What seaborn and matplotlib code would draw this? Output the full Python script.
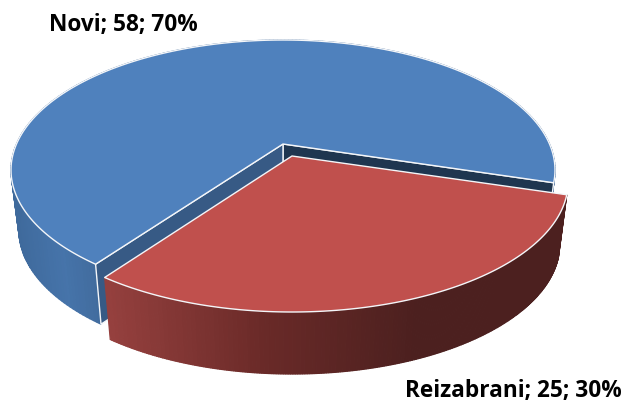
import numpy as np
import seaborn as sns
import matplotlib
matplotlib.use("Agg")
import matplotlib.pyplot as plt
from matplotlib.patches import Polygon

names = ["Novi", "Reizabrani"]
values = [58, 25]
percents = [70, 30]

sns.set_theme(style="white")
plt.rcParams['font.family'] = ['Open Sans', 'DejaVu Sans']

W, H = 625, 402
fig, ax = plt.subplots(figsize=(W/100, H/100), dpi=100)
ax.set_position([0, 0, 1, 1])
ax.set_xlim(0, W); ax.set_ylim(H, 0); ax.axis("off")

C = 0.2; A = 266.5; B = -95.8; Y0 = 145.0
def project(theta, cx=283.0, dy=0.0, depth=0.0, sx=1.0):
    """theta clockwise from top, in radians; homography of a disc to the page."""
    u = np.sin(theta); v = np.cos(theta)
    d = 1 + C*v
    s = 1 - 0.03*depth/62
    return cx + sx*s*A*u/d, (B*v + Y0)/d + dy + depth

rot = np.deg2rad(107)
gap = np.deg2rad(0.7)
fr = np.array(values)/sum(values)
red_a0, red_a1 = rot, rot + 2*np.pi*fr[1]
blue_a0, blue_a1 = red_a1 + gap, rot + 2*np.pi

BLUE = dict(cx=283.0, dy=0.0)
RED = dict(cx=292.0, dy=12.0, sx=1.015)
EDGE = "#f4f6f9"

def wall(a0, a1, off, palette, depth, xr, z):
    ts = np.linspace(a0, a1, 260)
    for t0, t1 in zip(ts[:-1], ts[1:]):
        x0, y0 = project(t0, **off); x1, y1 = project(t1, **off)
        x2, y2 = project(t1, depth=depth, **off); x3, y3 = project(t0, depth=depth, **off)
        f = np.clip(((x0+x1)/2 - xr[0])/(xr[1]-xr[0]), 0, 1)
        c = palette[int(f*(len(palette)-1))]
        ax.add_patch(Polygon([(x0,y0),(x1,y1),(x2,y2),(x3,y3)], fc=c, ec=c, lw=0.9, zorder=z))

def apex(off):
    return off["cx"], Y0 + off["dy"]

def top(a0, a1, off, color, z):
    ts = np.linspace(a0, a1, 400)
    x, y = project(ts, **off)
    pts = [apex(off)] + list(zip(x, y))
    ax.add_patch(Polygon(pts, fc=color, ec=EDGE, lw=1.0, joinstyle="round", zorder=z))

def cut(theta, off, color, depth, z):
    x, y = project(theta, **off)
    x2, y2 = project(theta, depth=depth, **off)
    ax0, ay0 = apex(off)
    ax.add_patch(Polygon([(ax0, ay0), (x, y), (x2, y2), (ax0, ay0 + depth)],
                         fc=color, ec=EDGE, lw=1.0, zorder=z))

blue_pal = sns.blend_palette(["#3f6a9c", "#4674aa", "#3f6898"], 100)
red_pal = sns.blend_palette(["#95403e", "#6a2a28", "#4c201f", "#4c201f"], 100)

# blue body
wall(blue_a0, blue_a1, BLUE, blue_pal, 60, (12, 110), 1)
cut(blue_a1, BLUE, "#1f3650", 60, 2)
cut(blue_a0, BLUE, "#375a85", 60, 2)
top(blue_a0, blue_a1, BLUE, "#4f81bd", 3)

# red body
wall(red_a0, red_a1, RED, red_pal, 62, (105, 567), 4)
top(red_a0, red_a1, RED, "#c0504d", 5)

ax.text(49, 25, f"{names[0]}; {values[0]}; {percents[0]}%", fontsize=16.3, fontweight="bold",
        color="black", va="center", ha="left", zorder=6)
ax.text(622, 391, f"{names[1]}; {values[1]}; {percents[1]}%", fontsize=16.3, fontweight="bold",
        color="black", va="center", ha="right", zorder=6)

fig.savefig("out.png", dpi=100, facecolor="white")
